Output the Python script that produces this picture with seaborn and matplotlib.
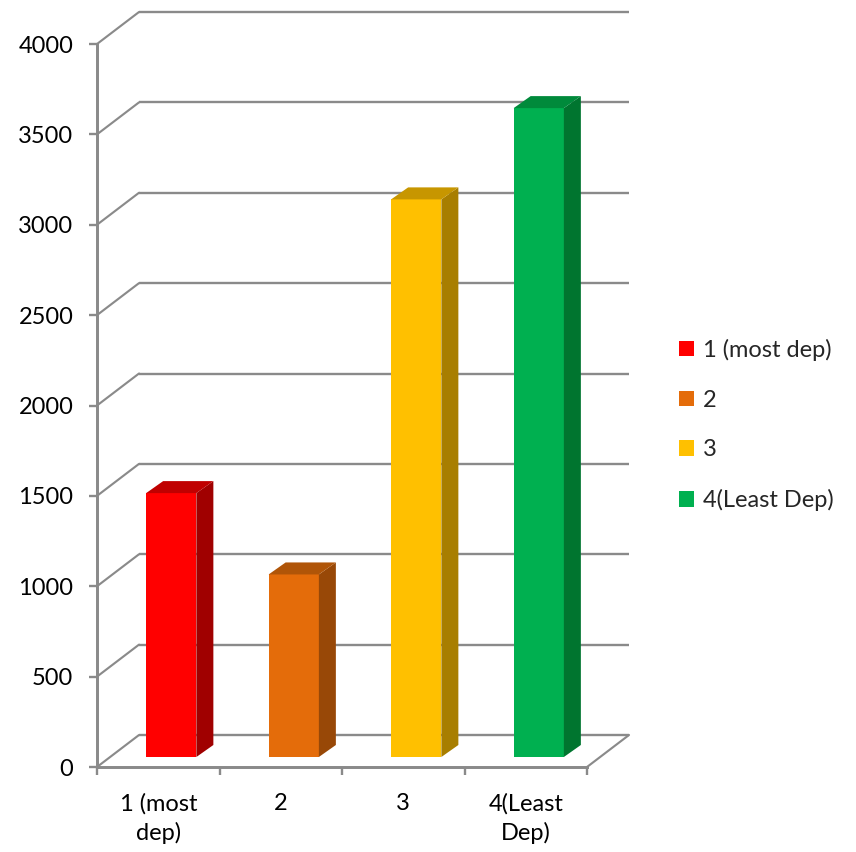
import matplotlib
matplotlib.use("Agg")
import matplotlib.pyplot as plt
from matplotlib.patches import Polygon, Patch
import seaborn as sns
import pandas as pd

categories = ["1 (most dep)", "2", "3", "4(Least Dep)"]
tick_labels = ["1 (most\ndep)", "2", "3", "4(Least\nDep)"]
values = [1460, 1010, 3085, 3590]
front_colors = ["#FF0000", "#E46C0A", "#FFC000", "#00B050"]
side_colors = ["#A00000", "#984807", "#A87E00", "#00752F"]
top_colors = ["#C00000", "#B05508", "#C79600", "#008A3B"]
yticks = [0, 500, 1000, 1500, 2000, 2500, 3000, 3500, 4000]

sns.set_theme(style="white")
plt.rcParams["font.family"] = ["Lato", "DejaVu Sans"]

W, H = 856, 852
DPI = 100
FS = 17
fig = plt.figure(figsize=(W / DPI, H / DPI), dpi=DPI)
# front plane of the 3D box: x 97..587 px, y 767..44 px
ax = fig.add_axes([97 / W, (H - 767) / H, 490 / W, 723 / H])

grid_c = "#8A8A8A"
lw = 1.7

df = pd.DataFrame({"cat": categories, "val": values})
sns.barplot(data=df, x="cat", y="val", hue="cat", palette=front_colors,
            width=0.41, ax=ax, legend=False, linewidth=0, saturation=1, zorder=3)
ax.set_xlim(-0.5, 3.5)
ax.set_ylim(0, 4000)

# pixel -> data unit conversions
px_x = 4.0 / 490.0
px_y = 4000.0 / 723.0

# back wall offset (px)
bdx, bdy = 42, 32
# bar front face offset and bar depth (px)
fdx, fdy = 13, 10
ddx, ddy = 17, 12

# back wall gridlines
for v in yticks:
    ax.plot([-0.5 + bdx * px_x, 3.5 + bdx * px_x], [v + bdy * px_y] * 2,
            color=grid_c, lw=lw, clip_on=False, zorder=1, solid_capstyle="butt")
    ax.plot([-0.5, -0.5 + bdx * px_x], [v, v + bdy * px_y],
            color=grid_c, lw=lw * 0.9, clip_on=False, zorder=1)
# floor right diagonal
ax.plot([3.5, 3.5 + bdx * px_x], [0, bdy * px_y], color=grid_c, lw=lw * 0.9,
        clip_on=False, zorder=1)

# shift bars and add 3D faces
for i, p in enumerate(ax.patches[:4]):
    x0 = p.get_x() + fdx * px_x
    w = p.get_width()
    h = p.get_height()
    y0 = fdy * px_y
    p.set_x(x0)
    p.set_y(y0)
    p.set_clip_on(False)
    side = Polygon([(x0 + w, y0), (x0 + w + ddx * px_x, y0 + ddy * px_y),
                    (x0 + w + ddx * px_x, y0 + h + ddy * px_y), (x0 + w, y0 + h)],
                   closed=True, facecolor=side_colors[i], edgecolor="none",
                   zorder=3, clip_on=False)
    top = Polygon([(x0, y0 + h), (x0 + w, y0 + h),
                   (x0 + w + ddx * px_x, y0 + h + ddy * px_y),
                   (x0 + ddx * px_x, y0 + h + ddy * px_y)],
                  closed=True, facecolor=top_colors[i], edgecolor="none",
                  zorder=3, clip_on=False)
    ax.add_patch(side)
    ax.add_patch(top)

# spines
for s in ["top", "right"]:
    ax.spines[s].set_visible(False)
for s in ["left", "bottom"]:
    ax.spines[s].set_color(grid_c)
    ax.spines[s].set_linewidth(lw * 1.25)
    ax.spines[s].set_zorder(2)

ax.set_yticks(yticks)
ax.set_yticklabels([str(v) for v in yticks], fontsize=FS, color="black")
ax.tick_params(axis="y", which="major", left=True, length=6, width=lw, color=grid_c,
               pad=11, direction="out")

ax.set_xticks(range(4))
ax.set_xticklabels(tick_labels, fontsize=FS, color="black", linespacing=1.4)
ax.set_xticks([-0.5, 0.5, 1.5, 2.5, 3.5], minor=True)
ax.tick_params(axis="x", which="major", bottom=False, pad=13)
ax.tick_params(axis="x", which="minor", bottom=True, length=6, width=lw,
               color=grid_c, direction="out")
ax.set_xlabel("")
ax.set_ylabel("")
ax.grid(False)

handles = [Patch(facecolor=c, edgecolor="none") for c in front_colors]
fig.legend(handles, categories, loc="center left",
           bbox_to_anchor=(679 / W, 1 - 425 / H), frameon=False, fontsize=FS,
           handlelength=0.62, handleheight=0.62, handletextpad=0.4,
           labelspacing=1.22, borderaxespad=0, borderpad=0)

fig.savefig("out.png", dpi=DPI, facecolor="white")
